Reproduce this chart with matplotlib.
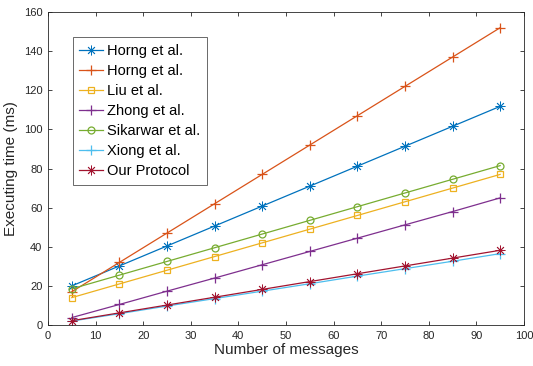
import matplotlib
matplotlib.use("Agg")
import matplotlib.pyplot as plt

plt.rcParams['font.family'] = ['Liberation Sans', 'DejaVu Sans']

msgs = [5, 15, 25, 35, 45, 55, 65, 75, 85, 95]
horng1 = [20, 30.2, 40.4, 50.6, 60.8, 71, 81.2, 91.4, 101.6, 111.8]
horng2 = [17, 32, 47, 62, 77, 92, 107, 122, 137, 152]
liu = [14, 21, 28, 35, 42, 49, 56, 63, 70, 77]
zhong = [3.8, 10.5, 17.3, 24, 30.8, 37.6, 44.4, 51.2, 58, 65]
sikarwar = [18.5, 25.5, 32.5, 39.5, 46.5, 53.5, 60.5, 67.5, 74.5, 81.5]
xiong = [2, 5.8, 9.7, 13.5, 17.3, 21.1, 25, 28.8, 32.6, 36.5]
ours = [2.2, 6.2, 10.2, 14.2, 18.2, 22.2, 26.2, 30.2, 34.2, 38.2]

labels = ["Horng et al.", "Horng et al.", "Liu et al.", "Zhong et al.",
          "Sikarwar et al.", "Xiong et al.", "Our Protocol"]
series = [horng1, horng2, liu, zhong, sikarwar, xiong, ours]
asterisk = (8, 2, 0)  # matlab style '*'
markers = [asterisk, "+", "s", "+", "o", "+", asterisk]
colors = [(0, 0.447, 0.741), (0.85, 0.325, 0.098), (0.929, 0.694, 0.125),
          (0.494, 0.184, 0.556), (0.466, 0.674, 0.188), (0.301, 0.745, 0.933),
          (0.635, 0.078, 0.184)]

fig = plt.figure(figsize=(5.33, 3.66), dpi=100)
ax = fig.add_axes([0.09, 0.112, 0.893, 0.855])

for ys, lab, m, c in zip(series, labels, markers, colors):
    ms = 5 if m in ("s", "o") else 7
    mew = 0.6 if m == asterisk else 0.9
    ax.plot(msgs, ys, marker=m, color=c, label=lab, linewidth=0.9,
            markersize=ms, markerfacecolor="none", markeredgewidth=mew)

ax.set_xlim(0, 100)
ax.set_ylim(0, 160)
ax.set_xticks(range(0, 101, 10))
ax.set_yticks(range(0, 161, 20))
ax.tick_params(direction="in", top=True, right=True, labelsize=8,
               length=3, width=0.6, colors="#262626", pad=4)
for sp in ax.spines.values():
    sp.set_linewidth(0.6)
    sp.set_color("#262626")
ax.set_xlabel("Number of messages", fontsize=11, color="#262626", labelpad=2)
ax.set_ylabel("Executing time (ms)", fontsize=11, color="#262626", labelpad=4)

leg = ax.legend(loc="upper left", bbox_to_anchor=(0.052, 0.92), fontsize=10.5,
                fancybox=False, edgecolor="#262626", handlelength=1.6,
                handletextpad=0.3, borderpad=0.45, labelspacing=0.42,
                borderaxespad=0)
leg.get_frame().set_linewidth(0.6)

fig.savefig("out.png", dpi=100)
